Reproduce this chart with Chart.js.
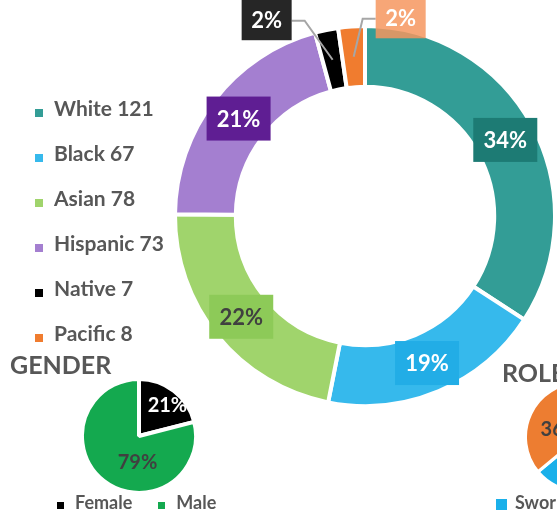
<!DOCTYPE html>
<html lang="en">
<head>
  <meta charset="UTF-8">
  <title>Demographics</title>
  <style>
    body { margin:0; width:557px; height:517px; overflow:hidden; background:#fff; position:relative; font-family:Lato, "Open Sans", sans-serif; }
    canvas { position:absolute; }
    .title { position:absolute; font-weight:bold; font-size:25px; color:#575757; line-height:1; }
    .legend { position:absolute; margin:0; padding:0; list-style:none; font-weight:bold; color:#575757; }
    .legend li { position:relative; white-space:nowrap; }
    .legend i { position:absolute; display:block; }
    #eth-legend { left:35px; top:85px; font-size:21px; }
    #eth-legend li { height:45px; line-height:45px; padding-left:19px; }
    #eth-legend i { left:0; top:24px; width:8px; height:8px; }
    #gender-legend { left:57px; top:490px; font-size:18px; display:flex; }
    #gender-legend li { padding-left:18px; margin-right:26px; line-height:24px; }
    #gender-legend i { left:0; top:12px; width:7px; height:7px; }
    #role-legend { left:496px; top:490px; font-size:18px; }
    #role-legend li { padding-left:19px; line-height:24px; }
    #role-legend i { left:0; top:9px; width:11px; height:11px; }
  </style>
</head>
<body>
  <canvas id="ethnic-chart" width="557" height="517" style="left:0;top:0;"></canvas>
  <ul class="legend" id="eth-legend"></ul>

  <div class="title" style="left:10px;top:352px;">GENDER</div>
  <canvas id="gender-chart" width="118" height="118" style="left:80px;top:377px;"></canvas>
  <ul class="legend" id="gender-legend"></ul>

  <div class="title" style="left:502px;top:360px;">ROLE</div>
  <canvas id="role-chart" width="112" height="112" style="left:524px;top:381px;"></canvas>
  <ul class="legend" id="role-legend"></ul>

  <script src="https://cdn.jsdelivr.net/npm/chart.js"></script>
  <script>
    // data
    const ethnicLabels = ['White', 'Black', 'Asian', 'Hispanic', 'Native', 'Pacific'];
    const ethnicCounts = [121, 67, 78, 73, 7, 8];
    const genderLabels = ['Female', 'Male'];
    const genderValues = [21, 79];
    const roleLabels = ['Sworn', 'Civilian'];
    const roleValues = [64, 36];

    // styles
    const ethnicColors = ['#339d96', '#36b9ec', '#a0d46c', '#a47fd0', '#000000', '#f07c2f'];
    const ethnicBoxColors = ['#1d7b74', '#22ade6', '#8dca58', '#5f1e93', '#262626', 'rgba(246,150,95,0.85)'];
    const ethnicTextColors = ['#fff', '#fff', '#404040', '#fff', '#fff', '#fff'];
    // small slices get their label moved out with a leader line
    const ethnicLabelOffsets = [[0, 0], [0, 0], [0, 0], [0, 0], [-66, -40], [47, -39]];
    const genderColors = ['#000000', '#14a94f'];
    const genderTextColors = ['#fff', '#404040'];
    const genderLabelOffsets = [[11, -8], [16, 4]];
    const roleColors = ['#1ab0ea', '#ed7d31'];
    const roleTextColors = ['#fff', '#404040'];
    const roleLabelOffsets = [[0, 0], [5, 4]];

    const pct = (vals, i) => Math.round(vals[i] / vals.reduce((a, b) => a + b, 0) * 100) + '%';

    function buildLegend(id, labels, colors, withValues) {
      const ul = document.getElementById(id);
      labels.forEach((l, i) => {
        const li = document.createElement('li');
        li.innerHTML = '<i style="background:' + colors[i] + '"></i>' + l + (withValues ? ' ' + withValues[i] : '');
        ul.appendChild(li);
      });
    }
    buildLegend('eth-legend', ethnicLabels, ethnicColors, ethnicCounts);
    buildLegend('gender-legend', genderLabels, genderColors);
    buildLegend('role-legend', roleLabels, roleColors);

    const donutLabels = {
      id: 'donutLabels',
      afterDatasetsDraw(chart) {
        const ctx = chart.ctx;
        const meta = chart.getDatasetMeta(0);
        ctx.save();
        ctx.font = 'bold 22px Lato, sans-serif';
        ctx.textAlign = 'center';
        ctx.textBaseline = 'middle';
        meta.data.forEach((arc, i) => {
          const p = arc.tooltipPosition();
          const off = ethnicLabelOffsets[i];
          const small = off[0] !== 0 || off[1] !== 0;
          const w = small ? 50 : 64, h = small ? 41 : 44;
          const bx = p.x + off[0], by = p.y + off[1];
          if (small) {
            const side = off[0] < 0 ? 1 : -1;
            const edgeX = bx + side * w / 2;
            ctx.strokeStyle = '#a6a6a6';
            ctx.lineWidth = 2;
            ctx.beginPath();
            ctx.moveTo(edgeX, by + 1);
            ctx.lineTo(edgeX + side * 13, by + 1);
            ctx.lineTo(p.x, p.y);
            ctx.stroke();
          }
          ctx.fillStyle = ethnicBoxColors[i];
          ctx.fillRect(bx - w / 2, by - h / 2, w, h);
          ctx.fillStyle = ethnicTextColors[i];
          ctx.fillText(pct(ethnicCounts, i), bx, by + 1);
        });
        ctx.restore();
      }
    };

    function pieLabels(values, textColors, offsets, size) {
      return {
        id: 'pieLabels',
        afterDatasetsDraw(chart) {
          const ctx = chart.ctx;
          ctx.save();
          ctx.font = 'bold ' + size + 'px Lato, sans-serif';
          ctx.textAlign = 'center';
          ctx.textBaseline = 'middle';
          chart.getDatasetMeta(0).data.forEach((arc, i) => {
            const p = arc.tooltipPosition();
            ctx.fillStyle = textColors[i];
            ctx.fillText(pct(values, i), p.x + offsets[i][0], p.y + offsets[i][1]);
          });
          ctx.restore();
        }
      };
    }

    const baseOpts = {
      responsive: false,
      animation: false,
      plugins: { legend: { display: false }, tooltip: { enabled: false } }
    };

    new Chart(document.getElementById('ethnic-chart'), {
      type: 'doughnut',
      data: { labels: ethnicLabels, datasets: [{ data: ethnicCounts, backgroundColor: ethnicColors, borderColor: '#fff', borderWidth: 4 }] },
      options: Object.assign({}, baseOpts, {
        cutout: '68%',
        layout: { padding: { left: 173, top: 24, right: 0, bottom: 109 } }
      }),
      plugins: [donutLabels]
    });

    new Chart(document.getElementById('gender-chart'), {
      type: 'pie',
      data: { labels: genderLabels, datasets: [{ data: genderValues, backgroundColor: genderColors, borderColor: '#fff', borderWidth: 4 }] },
      options: baseOpts,
      plugins: [pieLabels(genderValues, genderTextColors, genderLabelOffsets, 20)]
    });

    new Chart(document.getElementById('role-chart'), {
      type: 'pie',
      data: { labels: roleLabels, datasets: [{ data: roleValues, backgroundColor: roleColors, borderColor: '#fff', borderWidth: 3 }] },
      options: baseOpts,
      plugins: [pieLabels(roleValues, roleTextColors, roleLabelOffsets, 20)]
    });
  </script>
</body>
</html>
